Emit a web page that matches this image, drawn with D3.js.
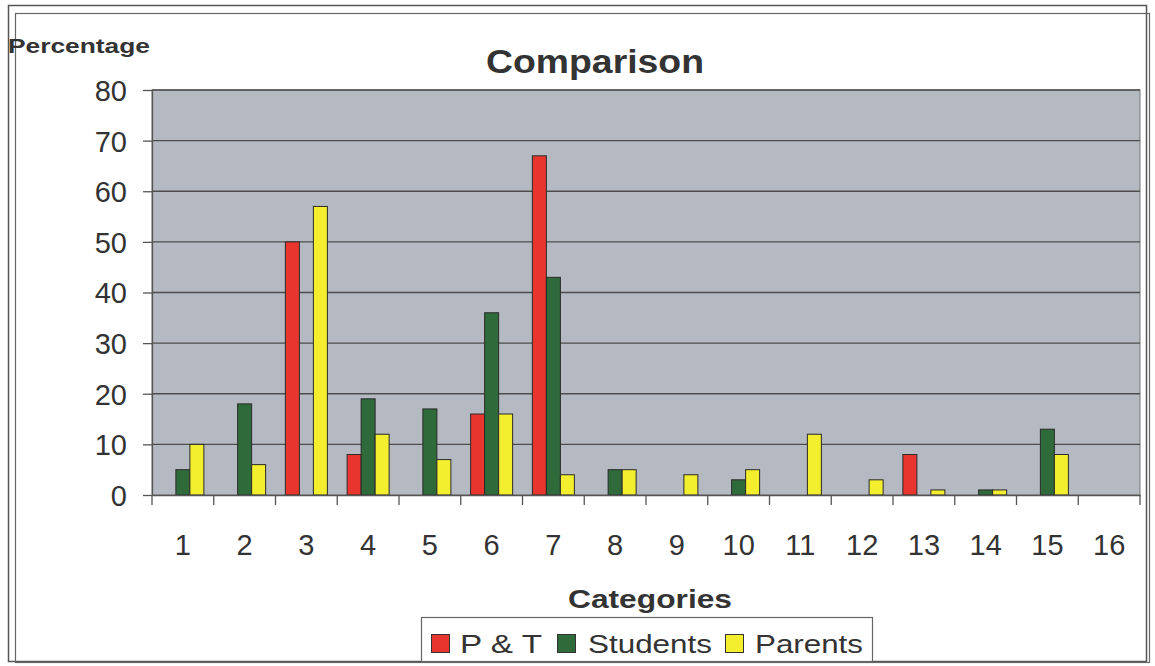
<!DOCTYPE html>
<html><head><meta charset="utf-8">
<script src="https://cdn.jsdelivr.net/npm/d3@7/dist/d3.min.js"></script>
<style>body{margin:0;background:#fff}svg{display:block}text{font-family:Arial,"Liberation Sans",sans-serif;fill:#333}</style>
</head><body><svg id="c" width="1155" height="666"></svg>
<script>
const categories = ["1","2","3","4","5","6","7","8","9","10","11","12","13","14","15","16"];
const seriesNames = ["P & T","Students","Parents"];
const pt       = [0,0,50,8,0,16,67,0,0,0,0,0,8,0,0,0];
const students = [5,18,0,19,17,36,43,5,0,3,0,0,0,1,13,0];
const parents  = [10,6,57,12,7,16,4,5,4,5,12,3,1,1,8,0];
const yTicks = [0,10,20,30,40,50,60,70,80];
const colors = ["#e8362e","#2f6a3b","#f3ee2e"];

const svg = d3.select("#c");
const L=152, R=1140, T=90, B=495;
const series = [pt, students, parents];

// frames
svg.append("rect").attr("x",8.5).attr("y",5.5).attr("width",1138).attr("height",656).attr("fill","none").attr("stroke","#555").attr("stroke-width",1.5);
svg.append("rect").attr("x",15.5).attr("y",13.5).attr("width",1134).attr("height",649).attr("fill","none").attr("stroke","#666").attr("stroke-width",1.2);

const x0 = d3.scaleBand().domain(categories).range([L,R]).padding(0);
const x1 = d3.scaleBand().domain(seriesNames).range([0,x0.bandwidth()]).paddingInner(0).paddingOuter(0.705);
const y = d3.scaleLinear().domain([0,80]).range([B,T]);

// plot background
svg.append("rect").attr("x",L).attr("y",T).attr("width",R-L).attr("height",B-T).attr("fill","#b5bac2").attr("stroke","#777").attr("stroke-width",1);

// gridlines
svg.append("g").selectAll("line").data(yTicks.filter(d=>d>0)).join("line")
  .attr("x1",L).attr("x2",R).attr("y1",d=>y(d)).attr("y2",d=>y(d))
  .attr("stroke","#4d4d4d").attr("stroke-width",1.3);

// bars
const g = svg.append("g");
categories.forEach((c,i)=>{
  seriesNames.forEach((s,j)=>{
    const v = series[j][i];
    if(v<=0) return;
    g.append("rect").attr("x",x0(c)+x1(s)).attr("y",y(v)).attr("width",x1.bandwidth()).attr("height",B-y(v))
      .attr("fill",colors[j]).attr("stroke","#2a2a2a").attr("stroke-width",1);
  });
});

// y axis
const yAxis = svg.append("g").attr("transform",`translate(${L},0)`)
  .call(d3.axisLeft(y).tickValues(yTicks).tickSize(9).tickPadding(16).tickSizeOuter(0));
yAxis.select(".domain").attr("stroke","#555").attr("stroke-width",1.3);
yAxis.selectAll(".tick line").attr("stroke","#555").attr("stroke-width",1.3);
yAxis.selectAll("text").attr("font-size",29).attr("fill","#333").attr("font-family","Arial, 'Liberation Sans', sans-serif").attr("dy","0.36em");

// x axis
const xAxis = svg.append("g").attr("transform",`translate(0,${B})`)
  .call(d3.axisBottom(x0).tickSize(0).tickPadding(39));
xAxis.select(".domain").attr("stroke","#555").attr("stroke-width",1.3);
xAxis.selectAll("text").attr("font-size",29).attr("fill","#333").attr("font-family","Arial, 'Liberation Sans', sans-serif");
svg.append("g").selectAll("line").data(categories.concat(["end"])).join("line")
  .attr("x1",(d,i)=>L+i*x0.step()).attr("x2",(d,i)=>L+i*x0.step())
  .attr("y1",B).attr("y2",B+10).attr("stroke","#555").attr("stroke-width",1.3);

// titles
svg.append("text").attr("x",595).attr("y",73).attr("text-anchor","middle").attr("font-size",33).attr("font-weight","bold")
  .attr("textLength",218).attr("lengthAdjust","spacingAndGlyphs").text("Comparison");
svg.append("text").attr("x",8).attr("y",53).attr("font-size",21).attr("font-weight","bold")
  .attr("textLength",142).attr("lengthAdjust","spacingAndGlyphs").text("Percentage");
svg.append("text").attr("x",650).attr("y",608).attr("text-anchor","middle").attr("font-size",26).attr("font-weight","bold")
  .attr("textLength",164).attr("lengthAdjust","spacingAndGlyphs").text("Categories");

// legend
svg.append("rect").attr("x",421.5).attr("y",617.5).attr("width",451).attr("height",44).attr("fill","#fff").attr("stroke","#666").attr("stroke-width",1.2);
const legItems = [{sx:431,tx:460,tw:82},{sx:557,tx:588,tw:124},{sx:725,tx:755,tw:108}];
legItems.forEach((it,j)=>{
  svg.append("rect").attr("x",it.sx+0.5).attr("y",634.5).attr("width",18).attr("height",18).attr("fill",colors[j]).attr("stroke","#333").attr("stroke-width",1);
  svg.append("text").attr("x",it.tx).attr("y",653).attr("font-size",26)
    .attr("textLength",it.tw).attr("lengthAdjust","spacingAndGlyphs").text(seriesNames[j]);
});
</script></body></html>
